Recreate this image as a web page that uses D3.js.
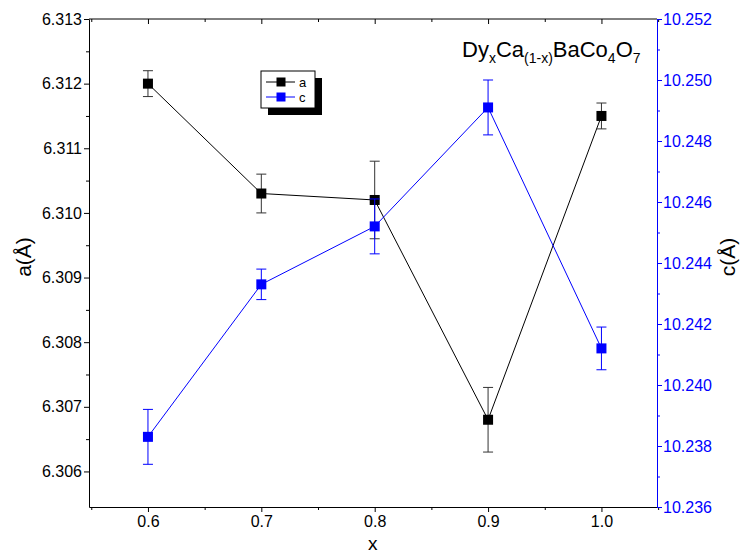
<!DOCTYPE html>
<html>
<head>
<meta charset="utf-8">
<script src="https://d3js.org/d3.v7.min.js"></script>
<style>
  body { margin: 0; background: #fff; }
  svg text { font-family: "Liberation Sans", Arial, sans-serif; }
</style>
</head>
<body>
<div id="chart"></div>
<script>
// data
var xValues = [0.6, 0.7, 0.8, 0.9, 1.0];
var aValues = [6.3120, 6.3103, 6.3102, 6.3068, 6.3115];
var aErrors = [0.0002, 0.0003, 0.0006, 0.0005, 0.0002];
var cValues = [10.2383, 10.2433, 10.2452, 10.2491, 10.2412];
var cErrors = [0.0009, 0.0005, 0.0009, 0.0009, 0.0007];

var xTicks = [0.6, 0.7, 0.8, 0.9, 1.0];
var aTicks = [6.306, 6.307, 6.308, 6.309, 6.310, 6.311, 6.312, 6.313];
var cTicks = [10.236, 10.238, 10.240, 10.242, 10.244, 10.246, 10.248, 10.250, 10.252];

var blue = "#0000ff";
var svgWidth = 743, svgHeight = 555;
var margin = { top: 19, right: 86, bottom: 48, left: 89 };
var width = svgWidth - margin.left - margin.right;
var height = svgHeight - margin.top - margin.bottom;

var svg = d3.select("#chart").append("svg")
  .attr("width", svgWidth)
  .attr("height", svgHeight);

var g = svg.append("g")
  .attr("transform", "translate(" + margin.left + "," + margin.top + ")");

var x = d3.scaleLinear().domain([0.548, 1.049]).range([0, width]);
var yA = d3.scaleLinear().domain([6.30545, 6.313]).range([height, 0]);
var yC = d3.scaleLinear().domain([10.236, 10.252]).range([height, 0]);

// minor tick helpers
function minors(major) {
  var out = [];
  for (var i = 0; i < major.length - 1; i++) out.push((major[i] + major[i + 1]) / 2);
  return out;
}
var xMinor = [0.55].concat(minors(xTicks)).concat([1.05]);
var aMinor = minors(aTicks);
var cMinor = minors(cTicks);

function styleAxis(sel, color) {
  sel.selectAll("line").attr("stroke", color);
  sel.selectAll("path").attr("stroke", color);
  sel.selectAll("text").attr("fill", color).style("font-size", "16px");
}

// bottom axis
g.append("g")
  .attr("transform", "translate(0," + height + ")")
  .call(d3.axisBottom(x).tickValues(xMinor).tickSize(3).tickFormat(""))
  .call(function (s) { s.select(".domain").remove(); s.selectAll("line").attr("stroke", "#000"); });
var xb = g.append("g")
  .attr("transform", "translate(0," + height + ")")
  .call(d3.axisBottom(x).tickValues(xTicks).tickSize(5).tickSizeOuter(0).tickPadding(4).tickFormat(d3.format(".1f")));
styleAxis(xb, "#000");

// top axis ticks (inward)
g.append("g")
  .call(d3.axisBottom(x).tickValues(xTicks).tickSize(5).tickFormat(""))
  .call(function (s) { s.select(".domain").remove(); s.selectAll("line").attr("stroke", "#000"); });
g.append("g")
  .call(d3.axisBottom(x).tickValues(xMinor).tickSize(3).tickFormat(""))
  .call(function (s) { s.select(".domain").remove(); s.selectAll("line").attr("stroke", "#000"); });
g.append("line").attr("x1", 0).attr("x2", width).attr("y1", 0).attr("y2", 0).attr("stroke", "#000");

// left axis
g.append("g")
  .call(d3.axisLeft(yA).tickValues(aMinor).tickSize(3).tickFormat(""))
  .call(function (s) { s.select(".domain").remove(); s.selectAll("line").attr("stroke", "#000"); });
var ya = g.append("g")
  .call(d3.axisLeft(yA).tickValues(aTicks).tickSize(5).tickSizeOuter(0).tickPadding(2).tickFormat(d3.format(".3f")));
styleAxis(ya, "#000");

// right axis
g.append("g")
  .attr("transform", "translate(" + width + ",0)")
  .call(d3.axisRight(yC).tickValues(cMinor).tickSize(3).tickFormat(""))
  .call(function (s) { s.select(".domain").remove(); s.selectAll("line").attr("stroke", blue); });
var yc = g.append("g")
  .attr("transform", "translate(" + width + ",0)")
  .call(d3.axisRight(yC).tickValues(cTicks).tickSize(5).tickSizeOuter(0).tickPadding(1).tickFormat(d3.format(".3f")));
styleAxis(yc, blue);

// axis titles
svg.append("text")
  .attr("transform", "translate(31," + (margin.top + height / 2 - 6) + ") rotate(-90)")
  .attr("text-anchor", "middle")
  .style("font-size", "21px")
  .text("a(Å)");
svg.append("text")
  .attr("transform", "translate(735," + (margin.top + height / 2 - 6) + ") rotate(-90)")
  .attr("text-anchor", "middle")
  .style("font-size", "21px")
  .text("c(Å)");
svg.append("text")
  .attr("x", margin.left + x(0.8) - 2)
  .attr("y", 550)
  .attr("text-anchor", "middle")
  .style("font-size", "19px")
  .text("x");

// title with subscripts
var title = svg.append("text")
  .attr("x", 462)
  .attr("y", 57)
  .style("font-size", "22px");
title.append("tspan").text("Dy");
title.append("tspan").attr("dy", 6).style("font-size", "14px").text("x");
title.append("tspan").attr("dy", -6).text("Ca");
title.append("tspan").attr("dy", 6).style("font-size", "14px").text("(1-x)");
title.append("tspan").attr("dy", -6).text("BaCo");
title.append("tspan").attr("dy", 6).style("font-size", "14px").text("4");
title.append("tspan").attr("dy", -6).text("O");
title.append("tspan").attr("dy", 6).style("font-size", "14px").text("7");

// series drawing
function drawSeries(values, errors, yScale, color, errColor) {
  var data = xValues.map(function (d, i) { return { x: d, y: values[i], e: errors[i] }; });
  var line = d3.line()
    .x(function (d) { return x(d.x); })
    .y(function (d) { return yScale(d.y); });
  g.append("path")
    .datum(data)
    .attr("fill", "none")
    .attr("stroke", color)
    .attr("stroke-width", 1)
    .attr("d", line);

  var eb = g.append("g").attr("stroke", errColor).attr("stroke-width", 1);
  eb.selectAll(".ev").data(data).enter().append("line")
    .attr("x1", function (d) { return x(d.x); })
    .attr("x2", function (d) { return x(d.x); })
    .attr("y1", function (d) { return yScale(d.y - d.e); })
    .attr("y2", function (d) { return yScale(d.y + d.e); });
  eb.selectAll(".et").data(data).enter().append("line")
    .attr("x1", function (d) { return x(d.x) - 5; })
    .attr("x2", function (d) { return x(d.x) + 5; })
    .attr("y1", function (d) { return yScale(d.y + d.e); })
    .attr("y2", function (d) { return yScale(d.y + d.e); });
  eb.selectAll(".eb").data(data).enter().append("line")
    .attr("x1", function (d) { return x(d.x) - 5; })
    .attr("x2", function (d) { return x(d.x) + 5; })
    .attr("y1", function (d) { return yScale(d.y - d.e); })
    .attr("y2", function (d) { return yScale(d.y - d.e); });

  g.selectAll(null).data(data).enter().append("rect")
    .attr("x", function (d) { return x(d.x) - 5; })
    .attr("y", function (d) { return yScale(d.y) - 5; })
    .attr("width", 10)
    .attr("height", 10)
    .attr("fill", color);
}

drawSeries(aValues, aErrors, yA, "#000", "#333");
drawSeries(cValues, cErrors, yC, blue, blue);

// legend
var lg = svg.append("g").attr("transform", "translate(261,71)");
lg.append("rect").attr("x", 7).attr("y", 7).attr("width", 54).attr("height", 37).attr("fill", "#000");
lg.append("rect").attr("x", 0).attr("y", 0).attr("width", 54).attr("height", 37)
  .attr("fill", "#fff").attr("stroke", "#000").attr("stroke-width", 1);
var legendItems = [{ name: "a", color: "#000" }, { name: "c", color: blue }];
legendItems.forEach(function (d, i) {
  var yy = 11 + i * 15;
  lg.append("line").attr("x1", 5).attr("x2", 34).attr("y1", yy).attr("y2", yy)
    .attr("stroke", d.color).attr("stroke-width", 1);
  lg.append("rect").attr("x", 15.5).attr("y", yy - 4.5).attr("width", 9).attr("height", 9).attr("fill", d.color);
  lg.append("text").attr("x", 38).attr("y", yy + 4.5).style("font-size", "13px").text(d.name);
});
</script>
</body>
</html>
